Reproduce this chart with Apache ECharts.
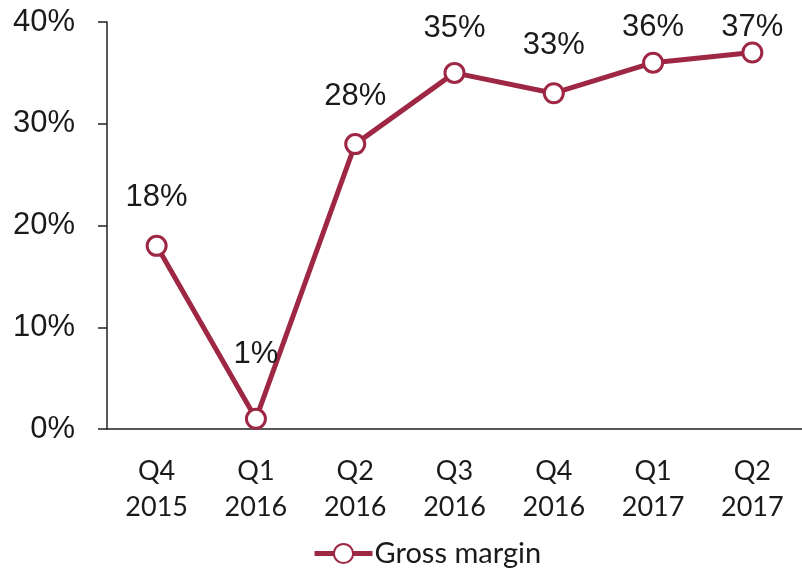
<!DOCTYPE html>
<html>
<head>
<meta charset="utf-8">
<script src="https://cdn.jsdelivr.net/npm/echarts@6/dist/echarts.min.js"></script>
<style>
  html, body { margin: 0; padding: 0; background: #fff; }
  #main { width: 802px; height: 570px; }
</style>
</head>
<body>
<div id="main"></div>
<script>
// quarters on the x axis
const categories = ["Q4\n2015", "Q1\n2016", "Q2\n2016", "Q3\n2016", "Q4\n2016", "Q1\n2017", "Q2\n2017"];
// gross margin, %
const grossMargin = [18, 1, 28, 35, 33, 36, 37];
const seriesName = "Gross margin";
// how far each value label sits above its point (px)
const labelLift = [48, 64, 48, 44, 48, 35, 25];

const lineColor = "#9e2744";

const chart = echarts.init(document.getElementById("main"));

chart.setOption({
  animation: false,
  grid: { left: 107, right: -1, top: 22, bottom: 141 },
  legend: {
    data: [seriesName],
    bottom: -3,
    left: 307,
    itemWidth: 58,
    itemHeight: 24,
    itemGap: 4,
    lineStyle: { width: 5 },
    textStyle: { fontFamily: "Lato", fontSize: 29, color: "#1a1a1a", padding: [0, 0, 0, -3] }
  },
  xAxis: {
    type: "category",
    data: categories,
    axisTick: { show: false },
    axisLine: { lineStyle: { color: "#222", width: 1.5 } },
    axisLabel: {
      interval: 0,
      margin: 24,
      fontFamily: "Lato",
      fontSize: 27,
      lineHeight: 36,
      color: "#1a1a1a"
    }
  },
  yAxis: {
    type: "value",
    min: 0,
    max: 40,
    interval: 10,
    splitLine: { show: false },
    axisLine: { show: true, lineStyle: { color: "#222", width: 1.5 } },
    axisTick: { show: true, length: 9, lineStyle: { color: "#222", width: 1.5 } },
    axisLabel: {
      margin: 32,
      fontFamily: "Liberation Sans",
      fontSize: 31,
      color: "#1a1a1a",
      formatter: "{value}%"
    }
  },
  series: [
    {
      name: seriesName,
      type: "line",
      data: grossMargin.map((v, i) => ({
        value: v,
        label: { offset: [0, -labelLift[i]] }
      })),
      symbol: "circle",
      symbolSize: 19,
      itemStyle: { color: "#fff", borderColor: lineColor, borderWidth: 3 },
      lineStyle: { color: lineColor, width: 5 },
      label: {
        show: true,
        position: "inside",
        fontFamily: "Liberation Sans",
        fontSize: 31,
        color: "#1a1a1a",
        formatter: "{c}%"
      }
    }
  ]
});
</script>
</body>
</html>
